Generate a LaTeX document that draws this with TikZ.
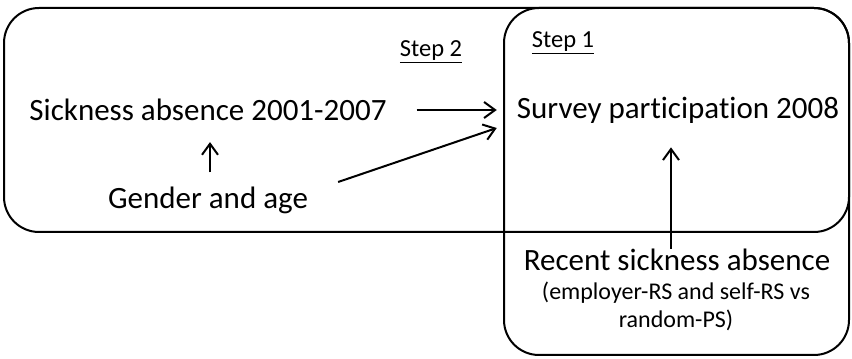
\documentclass[tikz,border=0pt]{standalone}
\usepackage{fontspec}
\setmainfont[Ligatures=NoCommon]{Carlito}
\usetikzlibrary{calc,arrows.meta}
\tikzstyle{line} = [line width=2pt]
\tikzstyle{line>} = [line,-{Straight Barb[length=11pt,width=16pt]}]
\tikzstyle{box} = [line width=2pt,rounded corners=35pt]
\tikzstyle{box label} = [font=\fontsize{24.5}{28}\selectfont]
\tikzstyle{var} = [inner sep=0pt,font=\fontsize{31}{37}\selectfont]

\begin{document}
\begin{tikzpicture}[x=1pt,y=1pt]
        \useasboundingbox (0,0) rectangle (852,359);
        % rectangles
        \draw[box] (4,127) rectangle (849,351);
        \draw[box] (504,4) rectangle (849,351);
        % draw rectangle labels
        \node[box label] (step2) at (431,307) {\underline{Step 2}};
        \node[box label] (step1) at (563,316) {\underline{Step 1}};

        % draw variables
        \node[var] (sick) at (208,249) {Sickness absence 2001-2007};
        \node[var] (survey) at (678,249) {Survey participation 2008};
        \node[var] (gender) at (208,159) {Gender and age};
        \node[var] (recent) at (677,99) {Recent sickness absence};
        \node[var,font=\fontsize{24}{28}\selectfont,align=center] (detail) at (676,53) {(employer-RS and self-RS vs\\random-PS)};

        % draw arrows
        \draw[line>,shorten <=30pt,shorten >=20pt] (sick.east) -- (survey.west);
        \draw[line>] ($(gender.east)+(30,18)$) -- ($(survey.west)+(-20,-18)$);
        \draw[line>,shorten <=14pt,shorten >=21pt] ([xshift=2pt]gender.north) -- ([xshift=2pt]sick.south);
        \draw[line>] ([xshift=-6pt]recent.north) -- ([xshift=-7pt,yshift=-24pt]survey.south);
    \end{tikzpicture}
\end{document}
